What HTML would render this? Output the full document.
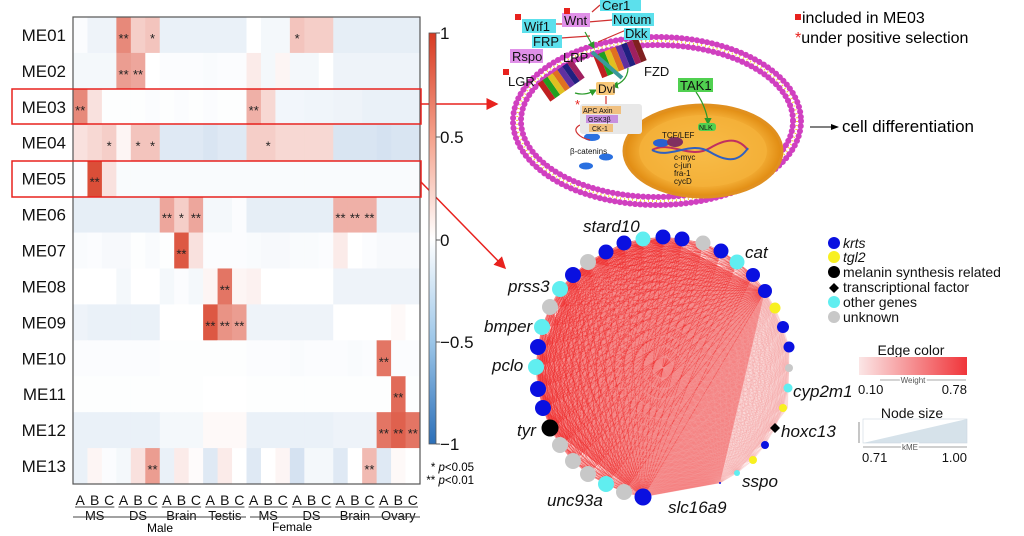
<!DOCTYPE html>
<html><head><meta charset="utf-8">
<style>
html,body{margin:0;padding:0;background:#fff;}
svg{display:block;font-family:"Liberation Sans",Arial,sans-serif;}
</style></head>
<body>
<svg id="s" width="1024" height="536" viewBox="0 0 1024 536" xmlns="http://www.w3.org/2000/svg">
<defs>
<linearGradient id="cb" x1="0" y1="0" x2="0" y2="1">
<stop offset="0" stop-color="#d73a22"/><stop offset="0.25" stop-color="#f4a08a"/>
<stop offset="0.5" stop-color="#ffffff"/><stop offset="0.75" stop-color="#9cc6e8"/><stop offset="1" stop-color="#2c6fb8"/>
</linearGradient>
<linearGradient id="ec" x1="0" y1="0" x2="1" y2="0"><stop offset="0" stop-color="#fbe6e6"/><stop offset="1" stop-color="#f0353a"/></linearGradient>
<radialGradient id="nuc" cx="0.5" cy="0.5" r="0.5"><stop offset="0" stop-color="#f8c050"/><stop offset="0.8" stop-color="#f0a830"/><stop offset="1" stop-color="#e08a10"/></radialGradient>
<marker id="ar" markerWidth="8" markerHeight="8" refX="7" refY="4" orient="auto"><path d="M0,0 L8,4 L0,8z" fill="#e8221e"/></marker>
<marker id="ak" markerWidth="8" markerHeight="8" refX="7" refY="4" orient="auto"><path d="M0,1 L8,4 L0,7z" fill="#000"/></marker>
<marker id="ag" markerWidth="6" markerHeight="6" refX="5" refY="3" orient="auto"><path d="M0,0 L6,3 L0,6z" fill="#2a9a2a"/></marker>
</defs>
<g id="heat"></g>
<rect x="73" y="17" width="347" height="467" fill="none" stroke="#555" stroke-width="1.2"/>
<g id="rowlab" font-size="17" text-anchor="end" fill="#111"></g>
<rect x="12" y="89" width="409" height="35" fill="none" stroke="#e8221e" stroke-width="1.5"/>
<rect x="12" y="161" width="409" height="36" fill="none" stroke="#e8221e" stroke-width="1.5"/>
<line x1="421" y1="104" x2="497" y2="104" stroke="#e8221e" stroke-width="1.5" marker-end="url(#ar)"/>
<line x1="421" y1="182" x2="505" y2="268" stroke="#e8221e" stroke-width="1.5" marker-end="url(#ar)"/>
<rect x="429" y="33" width="7" height="411" fill="url(#cb)" stroke="#555" stroke-width="0.8"/>
<g font-size="17" fill="#111">
<text x="440" y="39">1</text><text x="440" y="143">0.5</text><text x="440" y="246">0</text><text x="440" y="348">−0.5</text><text x="440" y="450">−1</text>
</g>
<g stroke="#555"><line x1="436" y1="33" x2="440" y2="33"/><line x1="436" y1="137" x2="440" y2="137"/><line x1="436" y1="240" x2="440" y2="240"/><line x1="436" y1="342" x2="440" y2="342"/><line x1="436" y1="444" x2="440" y2="444"/></g>
<text x="474" y="471" font-size="11.5" text-anchor="end">* <tspan font-style="italic">p</tspan>&lt;0.05</text>
<text x="474" y="484" font-size="11.5" text-anchor="end">** <tspan font-style="italic">p</tspan>&lt;0.01</text>
<g id="xlab" font-size="14" fill="#111" text-anchor="middle"></g>
<text x="160" y="532" font-size="12" text-anchor="middle">Male</text>
<text x="292" y="531" font-size="12" text-anchor="middle">Female</text>
<line x1="73" y1="517" x2="246" y2="517" stroke="#444"/>
<line x1="250" y1="517" x2="420" y2="517" stroke="#444"/>

<ellipse cx="657" cy="121" rx="144" ry="84" fill="#fff" stroke="#d040c0" stroke-width="6" stroke-dasharray="0.1 5" stroke-linecap="round"/>
<ellipse cx="657" cy="121" rx="140" ry="80" fill="none" stroke="#f0d030" stroke-width="2" stroke-dasharray="1 3"/>
<ellipse cx="657" cy="121" rx="136" ry="76" fill="none" stroke="#d040c0" stroke-width="6" stroke-dasharray="0.1 5" stroke-linecap="round"/>
<ellipse cx="703" cy="151" rx="79" ry="46" fill="url(#nuc)" stroke="#e09020" stroke-width="3"/>
<ellipse cx="703" cy="151" rx="64" ry="36" fill="#f8b840" opacity="0.5"/>
<path d="M652,150 C670,140 690,160 710,148 S740,140 748,150" stroke="#c03060" stroke-width="2" fill="none"/>
<path d="M652,150 C670,160 690,140 710,152 S740,160 748,148" stroke="#3060c0" stroke-width="2" fill="none"/>
<ellipse cx="661" cy="143" rx="8" ry="4" fill="#2a60d0"/>
<ellipse cx="675" cy="142" rx="8" ry="5" fill="#803060"/>
<ellipse cx="592" cy="137" rx="8" ry="4" fill="#2a70e0"/>
<ellipse cx="606" cy="157" rx="7" ry="3.5" fill="#2a70e0"/>
<ellipse cx="586" cy="166" rx="7" ry="3.5" fill="#2a70e0"/>
<g transform="translate(620,58) rotate(-22)">
<rect x="-24" y="-12" width="6" height="24" fill="#c02020"/><rect x="-18" y="-12" width="6" height="24" fill="#20a020"/><rect x="-12" y="-12" width="6" height="24" fill="#e0c020"/><rect x="-6" y="-12" width="6" height="24" fill="#e07020"/><rect x="0" y="-12" width="6" height="24" fill="#6030a0"/><rect x="6" y="-12" width="6" height="24" fill="#202080"/><rect x="12" y="-12" width="6" height="24" fill="#a02060"/><rect x="18" y="-12" width="6" height="24" fill="#802020"/>
</g>
<g transform="translate(562,80) rotate(-35)">
<rect x="-22" y="-11" width="6" height="22" fill="#c02020"/><rect x="-16" y="-11" width="6" height="22" fill="#20a020"/><rect x="-10" y="-11" width="6" height="22" fill="#e0c020"/><rect x="-4" y="-11" width="6" height="22" fill="#e07020"/><rect x="2" y="-11" width="6" height="22" fill="#6030a0"/><rect x="8" y="-11" width="6" height="22" fill="#202080"/><rect x="14" y="-11" width="6" height="22" fill="#a02060"/>
</g>
<line x1="592" y1="52" x2="622" y2="78" stroke="#3a9a9a" stroke-width="4"/>
<g stroke="#d03030" stroke-width="1.2" fill="none">
<path d="M600,5 L592,12"/><path d="M612,20 L588,22"/><path d="M540,24 L584,24"/><path d="M532,40 L590,36"/><path d="M626,30 L598,42"/><path d="M606,96 L606,108"/>
<path d="M580,125 C570,130 580,138 590,140"/>
</g>
<g stroke="#2a9a2a" stroke-width="1.2" fill="none">
<path d="M585,32 L594,48" marker-end="url(#ag)"/><path d="M628,68 C628,80 618,85 612,86" marker-end="url(#ag)"/><path d="M575,93 C585,96 592,92 596,90" marker-end="url(#ag)"/><path d="M696,92 C705,105 708,118 708,124" marker-end="url(#ag)"/>
</g>
<g font-size="12" fill="#111">
<rect x="600" y="0" width="41" height="11" fill="#5ce0ec"/><text x="602" y="10" font-size="13">Cer1</text>
<rect x="562" y="13" width="28" height="14" fill="#e090e8"/><text x="564" y="25" font-size="13">Wnt</text>
<rect x="522" y="19" width="34" height="14" fill="#5ce0ec"/><text x="524" y="31" font-size="13">Wif1</text>
<rect x="612" y="13" width="42" height="13" fill="#5ce0ec"/><text x="613" y="24" font-size="13">Notum</text>
<rect x="624" y="28" width="26" height="12" fill="#5ce0ec"/><text x="625" y="38" font-size="13">Dkk</text>
<rect x="532" y="35" width="30" height="13" fill="#5ce0ec"/><text x="533" y="46" font-size="13">FRP</text>
<rect x="510" y="49" width="33" height="14" fill="#e090e8"/><text x="512" y="61" font-size="13">Rspo</text>
<text x="563" y="62" font-size="13">LRP</text>
<text x="508" y="86" font-size="13">LGR</text>
<text x="644" y="76" font-size="13">FZD</text>
<rect x="596" y="82" width="19" height="13" rx="2" fill="#f8c878"/><text x="598" y="93" font-size="12">Dvl</text>
<rect x="678" y="78" width="35" height="14" fill="#50d050"/><text x="680" y="90" font-size="13">TAK1</text>
<rect x="580" y="104" width="62" height="30" rx="3" fill="#e8e8e8"/>
<rect x="582" y="106" width="39" height="8" fill="#f0c080"/><text x="583" y="113" font-size="7">APC Axin</text>
<rect x="586" y="115" width="32" height="8" fill="#c890e0"/><text x="588" y="122" font-size="7">GSK3β</text>
<rect x="589" y="124" width="24" height="8" fill="#f0c080"/><text x="592" y="131" font-size="7">CK-1</text>
<text x="575" y="109" font-size="13" fill="#e8221e">*</text>
<text x="570" y="154" font-size="8">β-catenins</text>
<rect x="698" y="123" width="18" height="8" rx="3" fill="#50d050"/><text x="699" y="130" font-size="7">NLK</text>
<text x="662" y="138" font-size="8">TCF/LEF</text>
<text x="674" y="160" font-size="8">c-myc</text><text x="674" y="168" font-size="8">c-jun</text><text x="674" y="176" font-size="8">fra-1</text><text x="674" y="184" font-size="8">cycD</text>
</g>
<g fill="#e8221e"><rect x="515" y="14" width="6" height="6"/><rect x="564" y="8" width="6" height="6"/><rect x="503" y="69" width="6" height="6"/></g>
<line x1="810" y1="127" x2="838" y2="127" stroke="#000" stroke-width="1" marker-end="url(#ak)"/>
<text x="842" y="132" font-size="17">cell differentiation</text>
<rect x="795" y="14" width="6" height="6" fill="#e8221e"/>
<text x="802" y="23" font-size="16">included in ME03</text>
<text x="795" y="43" font-size="16"><tspan fill="#e8221e">*</tspan>under positive selection</text>

<g id="edges"></g>
<g id="nodes"></g>
<g font-size="17" font-style="italic" fill="#111">
<text x="583" y="232">stard10</text><text x="745" y="258">cat</text><text x="508" y="292">prss3</text>
<text x="484" y="332">bmper</text><text x="492" y="371">pclo</text><text x="517" y="436">tyr</text>
<text x="547" y="506">unc93a</text><text x="668" y="513">slc16a9</text><text x="742" y="487">sspo</text>
<text x="781" y="437">hoxc13</text><text x="793" y="397">cyp2m1</text>
</g>
<g font-size="14" fill="#111">
<circle cx="834" cy="243" r="6" fill="#0a10e0"/><text x="843" y="248" font-style="italic">krts</text>
<circle cx="834" cy="257" r="6" fill="#f8f020"/><text x="843" y="262" font-style="italic">tgl2</text>
<circle cx="834" cy="272" r="6" fill="#000"/><text x="843" y="277">melanin synthesis related</text>
<path d="M834,283 L839,288 L834,293 L829,288z" fill="#000"/><text x="843" y="292">transcriptional factor</text>
<circle cx="834" cy="302" r="6" fill="#60eef0"/><text x="843" y="307">other genes</text>
<circle cx="834" cy="317" r="6" fill="#c8c8c8"/><text x="843" y="322">unknown</text>
<text x="911" y="355" text-anchor="middle">Edge color</text>
<rect x="859" y="357" width="108" height="18" fill="url(#ec)"/>
<line x1="880" y1="380" x2="966" y2="380" stroke="#555" stroke-width="0.6"/>
<text x="913" y="383" font-size="8" text-anchor="middle" fill="#555" style="paint-order:stroke" stroke="#fff" stroke-width="3">Weight</text>
<text x="858" y="394" font-size="13">0.10</text><text x="967" y="394" font-size="13" text-anchor="end">0.78</text>
<text x="912" y="418" text-anchor="middle">Node size</text>
<path d="M863,443 L967,419 L967,443z" fill="#d6e2ea"/>
<rect x="863" y="419" width="104" height="24" fill="none" stroke="#ccd8e0" stroke-width="0.6"/>
<line x1="859" y1="443" x2="859" y2="422" stroke="#444" stroke-width="0.6"/>
<line x1="863" y1="447" x2="967" y2="447" stroke="#444" stroke-width="0.6"/>
<text x="910" y="450" font-size="8" text-anchor="middle" fill="#555" style="paint-order:stroke" stroke="#fff" stroke-width="3">kME</text>
<text x="862" y="462" font-size="13">0.71</text><text x="967" y="462" font-size="13" text-anchor="end">1.00</text>
</g>
</svg>
<script>
var NS="http://www.w3.org/2000/svg";
function el(t,a,p){var e=document.createElementNS(NS,t);for(var k in a)e.setAttribute(k,a[k]);p.appendChild(e);return e;}
var V=[
[-0.02,-0.08,-0.08,0.6,0.25,0.3,-0.1,-0.1,-0.1,-0.1,-0.1,-0.1,0,-0.05,-0.05,0.3,0.25,0.25,-0.12,-0.12,-0.12,-0.12,-0.12,-0.12],
[-0.05,-0.05,-0.05,0.5,0.45,0,-0.02,-0.02,-0.02,-0.03,-0.02,-0.02,0.1,-0.05,0.05,-0.05,-0.05,0,-0.08,-0.08,-0.08,-0.08,-0.08,-0.08],
[0.6,0.15,-0.01,-0.01,-0.01,-0.02,-0.01,-0.02,-0.01,-0.02,-0.01,-0.01,0.4,0.2,-0.06,-0.06,-0.07,-0.07,-0.08,-0.08,-0.1,-0.1,-0.1,-0.1],
[0.15,0.2,0.25,0.05,0.3,0.3,-0.15,-0.15,-0.15,-0.18,-0.15,-0.15,0.25,0.25,0.2,0.2,0.2,0.2,-0.18,-0.18,-0.18,-0.2,-0.18,-0.18],
[-0.02,0.9,0.15,-0.03,-0.03,-0.03,-0.03,-0.03,-0.03,-0.03,-0.03,-0.03,-0.03,-0.03,-0.03,-0.03,-0.03,-0.03,-0.03,-0.03,-0.03,-0.03,-0.03,-0.03],
[-0.12,-0.12,-0.12,-0.12,-0.12,-0.12,0.45,0.25,0.45,-0.05,-0.05,-0.02,-0.12,-0.12,-0.12,-0.12,-0.12,-0.12,0.4,0.4,0.4,-0.1,-0.1,-0.1],
[-0.03,-0.02,-0.04,-0.04,-0.01,-0.03,-0.01,0.85,0.15,-0.02,-0.02,-0.02,-0.03,-0.04,-0.04,-0.03,-0.03,-0.02,0.1,0,-0.02,-0.04,-0.04,-0.04],
[0,0,0,-0.05,0,0,-0.05,-0.02,-0.05,0.05,0.7,0.05,0.07,0,0,0,0,0,-0.08,-0.08,-0.08,-0.08,-0.08,-0.08],
[-0.08,-0.1,-0.1,-0.1,-0.1,-0.1,0,0,0,0.85,0.55,0.5,-0.08,-0.08,-0.08,-0.08,-0.08,-0.08,0,0,0,0,0.03,0],
[-0.02,-0.02,-0.02,-0.02,-0.02,-0.02,-0.01,-0.01,-0.01,-0.01,-0.01,-0.01,-0.02,-0.02,-0.02,-0.03,-0.02,-0.02,-0.02,-0.03,-0.02,0.7,-0.02,-0.02],
[-0.01,-0.01,-0.01,-0.01,-0.01,-0.01,-0.01,-0.01,-0.01,0,0,0,-0.01,-0.01,-0.01,-0.01,-0.01,-0.01,-0.01,-0.01,-0.01,-0.01,0.75,-0.01],
[-0.1,-0.1,-0.1,-0.1,-0.1,-0.1,-0.05,-0.05,-0.05,0.03,0.03,0.03,-0.1,-0.1,-0.1,-0.1,-0.1,-0.1,-0.08,-0.08,-0.08,0.7,0.8,0.7],
[-0.1,0.05,-0.02,-0.05,0.15,0.5,-0.1,0.1,0.02,-0.15,0.1,0,-0.15,0,0.05,-0.2,-0.05,-0.05,-0.15,0,0.35,-0.15,0.03,0]];
var S={0:{3:"**",5:"*",15:"*"},1:{3:"**",4:"**"},2:{0:"**",12:"**"},3:{2:"*",4:"*",5:"*",13:"*"},4:{1:"**"},5:{6:"**",7:"*",8:"**",18:"**",19:"**",20:"**"},6:{7:"**"},7:{10:"**"},8:{9:"**",10:"**",11:"**"},9:{21:"**"},10:{22:"**"},11:{21:"**",22:"**",23:"**"},12:{5:"**",20:"**"}};
function col(v){var r,g,b;if(v>=0){r=255+(215-255)*v;g=255+(58-255)*v;b=255+(34-255)*v;}else{v=-v;r=255+(44-255)*v;g=255+(111-255)*v;b=255+(184-255)*v;}return"rgb("+Math.round(r)+","+Math.round(g)+","+Math.round(b)+")";}
var h=document.getElementById("heat"),cw=347/24,rh=467/13;
for(var i=0;i<13;i++){for(var j=0;j<24;j++){el("rect",{x:73+j*cw,y:17+i*rh,width:cw+0.5,height:rh+0.5,fill:col(V[i][j])},h);
var s=S[i]&&S[i][j];if(s){var t=el("text",{x:73+j*cw+cw/2,y:17+i*rh+rh/2+8,"font-size":"13","text-anchor":"middle",fill:"#222"},h);t.textContent=s;}}
var l=el("text",{x:66,y:17+i*rh+rh/2+6},document.getElementById("rowlab"));l.textContent="ME"+(i<9?"0":"")+(i+1);}
var xl=document.getElementById("xlab"),L=["A","B","C"];
for(var j=0;j<24;j++){var t=el("text",{x:73+j*cw+cw/2,y:505},xl);t.textContent=L[j%3];}
var G=["MS","DS","Brain","Testis","MS","DS","Brain","Ovary"];
for(var k=0;k<8;k++){var x0=73+k*3*cw;el("line",{x1:x0+2,y1:507,x2:x0+3*cw-2,y2:507,stroke:"#444"},xl);var t=el("text",{x:x0+1.5*cw,y:520,"font-size":"13"},xl);t.textContent=G[k];}
var N=[[606,252,7.5,"b"],[624,243,7.5,"b"],[643,239,7.5,"c"],[663,237,7.5,"b"],[682,239,7.5,"b"],[703,243,7.5,"g"],[721,251,7.5,"b"],[737,262,7.5,"c"],[753,275,7,"b"],[765,291,7,"b"],[775,308,5.5,"y"],[783,327,6,"b"],[789,347,5.5,"b"],[789,368,4,"g"],[788,388,4.5,"c"],[783,408,4,"y"],[775,428,4,"d"],[765,445,4,"b"],[753,460,4,"y"],[737,473,3,"c"],[720,483,1,"b"],[643,497,8.5,"b"],[624,492,8,"g"],[606,484,8,"c"],[588,474,8,"g"],[573,461,8,"g"],[560,445,8,"g"],[550,428,8.5,"k"],[543,408,8,"b"],[538,389,8,"b"],[536,367,8,"c"],[538,347,8,"b"],[542,327,8,"c"],[550,307,8,"g"],[560,289,8,"c"],[573,275,8,"b"],[588,262,8,"g"]];
var C={b:"#0a10e0",c:"#60eef0",g:"#c8c8c8",y:"#f8f020",k:"#000"};
var E=document.getElementById("edges");
el("polygon",{points:"606,252 663,237 765,291 720,483 643,497 550,428 536,367 573,275",fill:"#f04040",opacity:"0.65"},E);
el("polygon",{points:"765,291 789,347 788,408 737,473 720,483",fill:"#f7c0c0",opacity:"0.6"},E);
for(var a=0;a<N.length;a++)for(var b=a+1;b<N.length;b++){
var strong=(N[a][2]>=7&&N[b][2]>=7);
el("line",{x1:N[a][0],y1:N[a][1],x2:N[b][0],y2:N[b][1],stroke:strong?"#ee2828":"#f4a0a0","stroke-width":0.6,opacity:strong?0.6:0.35},E);}
var ND=document.getElementById("nodes");
N.forEach(function(n){if(n[3]=="d")el("path",{d:"M"+n[0]+","+(n[1]-5)+" l5,5 l-5,5 l-5,-5z",fill:"#000"},ND);else el("circle",{cx:n[0],cy:n[1],r:n[2],fill:C[n[3]]},ND);});
</script>
</body></html>
